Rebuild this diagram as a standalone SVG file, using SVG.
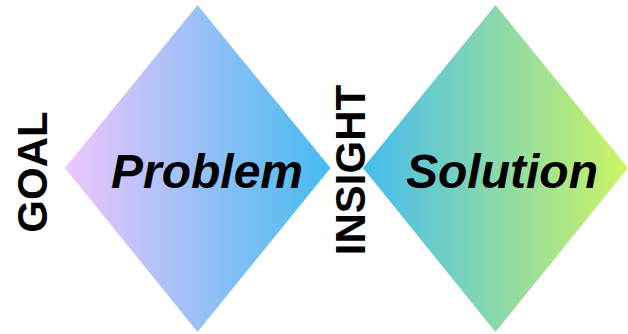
<svg xmlns="http://www.w3.org/2000/svg" width="628" height="334" viewBox="0 0 628 334">
  <defs>
    <linearGradient id="gProblem" gradientUnits="userSpaceOnUse" x1="65" y1="0" x2="331" y2="0">
      <stop offset="0" stop-color="#eec6fd"/>
      <stop offset="1" stop-color="#45bbf1"/>
    </linearGradient>
    <linearGradient id="gSolution" gradientUnits="userSpaceOnUse" x1="363" y1="0" x2="628" y2="0">
      <stop offset="0" stop-color="#45bcf0"/>
      <stop offset="1" stop-color="#cdf564"/>
    </linearGradient>
    <style>
      .lbl { font-family: "Liberation Sans", Arial, sans-serif; font-weight: bold; fill: #000; }
      .big { font-size: 48px; font-style: italic; text-anchor: middle; }
      .side { font-size: 42px; text-anchor: middle; }
    </style>
  </defs>
  <rect width="628" height="334" fill="#ffffff"/>
  <g id="problem">
    <polygon points="65,168 197.5,5 330.5,168 197.5,332" fill="url(#gProblem)"/>
    <text class="lbl big" x="207" y="188">Problem</text>
  </g>
  <g id="solution">
    <polygon points="363,168 495.5,5 628,168 495.5,332" fill="url(#gSolution)"/>
    <text class="lbl big" x="502" y="188">Solution</text>
  </g>
  <g id="goal">
    <text class="lbl side" transform="translate(47,172) rotate(-90)" x="0" y="0">GOAL</text>
  </g>
  <g id="insight">
    <text class="lbl side" transform="translate(365,170) rotate(-90)" x="0" y="0">INSIGHT</text>
  </g>
  <g id="connectors"></g>
</svg>
